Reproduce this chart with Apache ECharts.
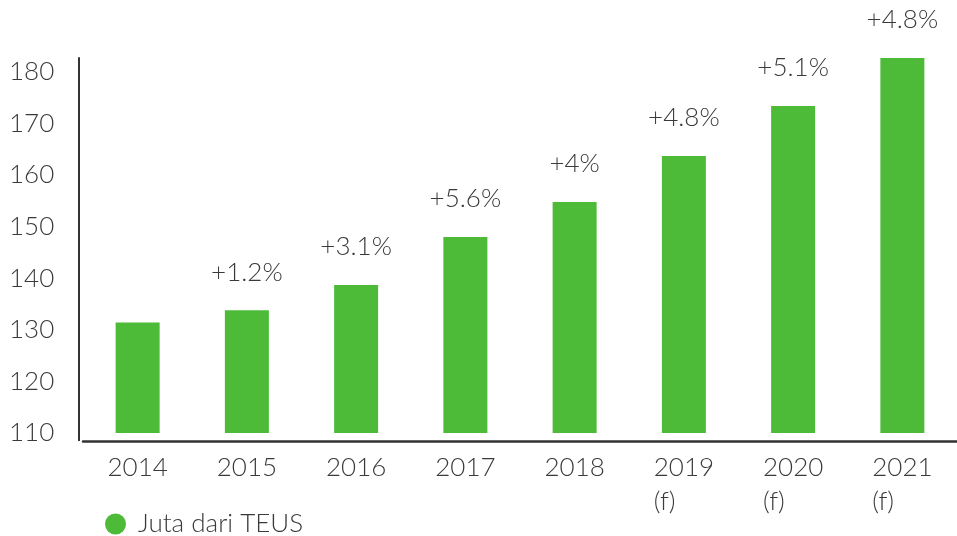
<!DOCTYPE html>
<html>
<head>
<meta charset="utf-8">
<script src="https://cdn.jsdelivr.net/npm/echarts@6/dist/echarts.min.js"></script>
<style>
html,body{margin:0;padding:0;background:#fff;}
#main{width:957px;height:536px;}
</style>
</head>
<body>
<div id="main"></div>
<script>
const categories = ['2014', '2015', '2016', '2017', '2018', '2019\n(f)', '2020\n(f)', '2021\n(f)'];
const values = [131.4, 133.8, 138.7, 148.0, 154.8, 163.7, 173.4, 182.7];
const growthLabels = ['', '+1.2%', '+3.1%', '+5.6%', '+4%', '+4.8%', '+5.1%', '+4.8%'];
const seriesName = 'Juta dari TEUS';

const FONT = 'Lato, "Noto Sans", sans-serif';
const TXT = '#3a3a3a';
const FW = 300;

const chart = echarts.init(document.getElementById('main'));
chart.setOption({
  animation: false,
  backgroundColor: '#fff',
  textStyle: { fontFamily: FONT },
  grid: { left: 83, right: -8, top: 58, bottom: 103, containLabel: false },
  legend: {
    data: [seriesName],
    left: 100, top: 506,
    icon: 'circle', itemWidth: 21, itemHeight: 21,
    textStyle: { fontFamily: FONT, fontSize: 26, fontWeight: FW, color: TXT, padding: [0, 0, 0, 7] }
  },
  xAxis: {
    type: 'category',
    data: categories,
    offset: 8,
    axisLine: { lineStyle: { color: '#333', width: 2.5 } },
    axisTick: { show: false },
    axisLabel: {
      margin: 10,
      formatter: function (v) {
        const parts = v.split('\n');
        if (parts.length === 1) return '{a|' + parts[0] + '}';
        return '{a|' + parts[0] + '}\n{b|' + parts[1] + '}';
      },
      rich: {
        a: { fontFamily: FONT, fontSize: 26, fontWeight: FW, color: TXT, lineHeight: 34, align: 'left' },
        b: { fontFamily: FONT, fontSize: 26, fontWeight: FW, color: TXT, lineHeight: 34, align: 'left' }
      }
    }
  },
  yAxis: {
    type: 'value',
    min: 110, max: 'dataMax', interval: 10,
    offset: 4,
    axisLine: { show: true, lineStyle: { color: '#333', width: 2 },
      symbol: ['rect', 'none'], symbolSize: [2, 16], symbolOffset: [0, 0] },
    axisTick: { show: false },
    splitLine: { show: false },
    axisLabel: {
      showMaxLabel: false,
      align: 'left', margin: 70,
      fontFamily: FONT, fontSize: 26, fontWeight: FW, color: TXT
    }
  },
  series: [{
    name: seriesName,
    type: 'bar',
    data: values,
    barWidth: 44,
    itemStyle: { color: '#4dbb38' },
    label: {
      show: true, position: 'top', distance: 25,
      fontFamily: FONT, fontSize: 26, fontWeight: FW, color: TXT,
      formatter: function (p) { return growthLabels[p.dataIndex]; }
    }
  }]
});
</script>
</body>
</html>
